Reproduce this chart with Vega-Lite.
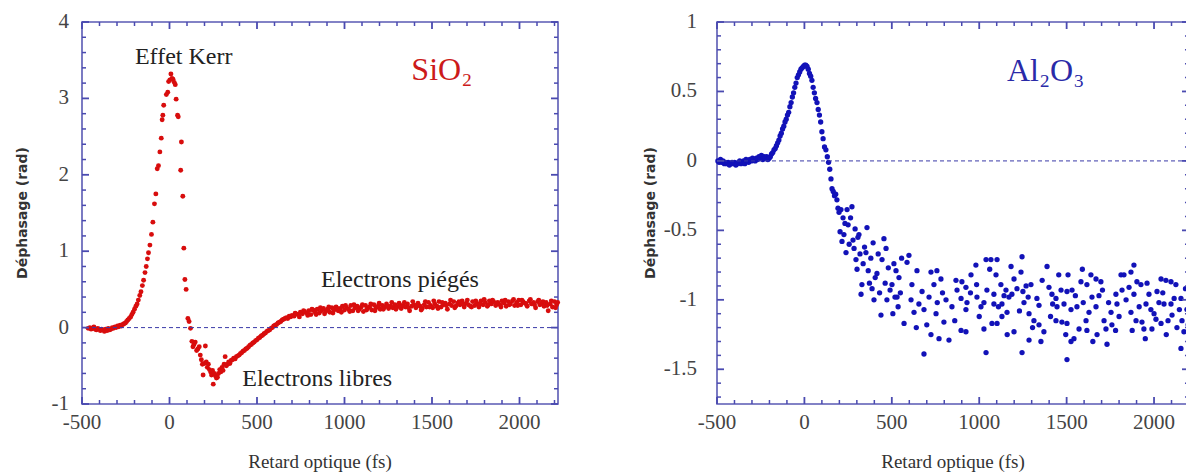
{
"$schema": "https://vega.github.io/schema/vega-lite/v6.json",
"padding": {"left": 15, "top": 10, "right": 1, "bottom": 0},
"background": "white",
"spacing": 82,
"config": {"view": {"stroke": "#5a5ab4", "strokeWidth": 1.6}},
"datasets": {
"sio2": [
{"t":-465,"p":-0.01},{"t":-455,"p":0.00},{"t":-448,"p":-0.02},{"t":-440,"p":-0.01},{"t":-432,"p":0.01},{"t":-425,"p":-0.02},{"t":-418,"p":-0.03},{"t":-410,"p":-0.01},{"t":-402,"p":-0.02},{"t":-395,"p":-0.04},{"t":-388,"p":-0.02},{"t":-380,"p":-0.03},{"t":-372,"p":-0.05},{"t":-365,"p":-0.02},{"t":-357,"p":-0.04},{"t":-350,"p":-0.01},{"t":-342,"p":-0.03},{"t":-335,"p":-0.02},{"t":-327,"p":0.00},{"t":-320,"p":-0.01},{"t":-312,"p":0.01},{"t":-305,"p":0.00},{"t":-297,"p":0.02},{"t":-290,"p":0.01},{"t":-282,"p":0.03},{"t":-275,"p":0.02},{"t":-267,"p":0.04},{"t":-260,"p":0.05},{"t":-252,"p":0.06},{"t":-245,"p":0.08},{"t":-238,"p":0.10},{"t":-230,"p":0.12},{"t":-222,"p":0.14},{"t":-215,"p":0.17},{"t":-208,"p":0.20},{"t":-200,"p":0.24},{"t":-192,"p":0.28},{"t":-185,"p":0.31},{"t":-178,"p":0.36},{"t":-170,"p":0.42},{"t":-163,"p":0.47},{"t":-155,"p":0.55},{"t":-148,"p":0.62},{"t":-140,"p":0.72},{"t":-133,"p":0.80},{"t":-126,"p":0.90},{"t":-120,"p":0.98},{"t":-112,"p":1.08},{"t":-103,"p":1.22},{"t":-95,"p":1.38},{"t":-86,"p":1.62},{"t":-78,"p":1.75},{"t":-70,"p":2.08},{"t":-63,"p":2.12},{"t":-55,"p":2.30},{"t":-47,"p":2.48},{"t":-42,"p":2.72},{"t":-38,"p":2.78},{"t":-33,"p":2.91},{"t":-18,"p":3.05},{"t":-10,"p":3.08},{"t":-5,"p":3.22},{"t":2,"p":3.24},{"t":8,"p":3.32},{"t":14,"p":3.26},{"t":20,"p":3.25},{"t":27,"p":3.21},{"t":33,"p":3.18},{"t":38,"p":2.99},{"t":46,"p":2.78},{"t":50,"p":2.76},{"t":68,"p":2.43},{"t":64,"p":2.06},{"t":76,"p":1.72},{"t":82,"p":1.04},{"t":88,"p":0.63},{"t":95,"p":0.50},{"t":105,"p":0.12},{"t":112,"p":0.08},{"t":120,"p":-0.01},{"t":128,"p":-0.18},{"t":134,"p":-0.25},{"t":140,"p":-0.22},{"t":147,"p":-0.19},{"t":155,"p":-0.30},{"t":162,"p":-0.28},{"t":170,"p":-0.25},{"t":176,"p":-0.36},{"t":182,"p":-0.42},{"t":188,"p":-0.48},{"t":192,"p":-0.62},{"t":198,"p":-0.47},{"t":205,"p":-0.24},{"t":210,"p":-0.45},{"t":216,"p":-0.52},{"t":222,"p":-0.48},{"t":228,"p":-0.55},{"t":235,"p":-0.58},{"t":240,"p":-0.62},{"t":246,"p":-0.56},{"t":250,"p":-0.74},{"t":256,"p":-0.60},{"t":262,"p":-0.63},{"t":268,"p":-0.66},{"t":274,"p":-0.65},{"t":280,"p":-0.60},{"t":287,"p":-0.55},{"t":293,"p":-0.58},{"t":300,"p":-0.52},{"t":306,"p":-0.56},{"t":312,"p":-0.48},{"t":318,"p":-0.38},{"t":325,"p":-0.50},{"t":332,"p":-0.48},{"t":338,"p":-0.45},{"t":345,"p":-0.47},{"t":352,"p":-0.43},{"t":360,"p":-0.42},{"t":367,"p":-0.40},{"t":375,"p":-0.41},{"t":382,"p":-0.38},{"t":390,"p":-0.37},{"t":398,"p":-0.36},{"t":405,"p":-0.34},{"t":412,"p":-0.33},{"t":420,"p":-0.31},{"t":428,"p":-0.30},{"t":436,"p":-0.28},{"t":444,"p":-0.27},{"t":452,"p":-0.25},{"t":460,"p":-0.23},{"t":468,"p":-0.22},{"t":476,"p":-0.20},{"t":484,"p":-0.19},{"t":492,"p":-0.17},{"t":500,"p":-0.16},{"t":508,"p":-0.14},{"t":516,"p":-0.13},{"t":524,"p":-0.11},{"t":532,"p":-0.10},{"t":540,"p":-0.08},{"t":548,"p":-0.07},{"t":556,"p":-0.05},{"t":564,"p":-0.04},{"t":572,"p":-0.03},{"t":580,"p":-0.01},{"t":588,"p":0.00},{"t":596,"p":0.02},{"t":604,"p":0.03},{"t":612,"p":0.04},{"t":620,"p":0.06},{"t":628,"p":0.07},{"t":636,"p":0.08},{"t":644,"p":0.10},{"t":652,"p":0.11},{"t":660,"p":0.12},{"t":668,"p":0.13},{"t":676,"p":0.12},{"t":684,"p":0.15},{"t":692,"p":0.14},{"t":700,"p":0.16},
{"t":712,"p":0.15},{"t":724,"p":0.18},{"t":736,"p":0.17},{"t":748,"p":0.20},{"t":760,"p":0.18},{"t":772,"p":0.21},{"t":784,"p":0.19},{"t":796,"p":0.22},{"t":808,"p":0.17},{"t":820,"p":0.23},{"t":832,"p":0.20},{"t":844,"p":0.24},{"t":856,"p":0.19},{"t":868,"p":0.22},{"t":880,"p":0.25},{"t":892,"p":0.21},{"t":904,"p":0.24},{"t":916,"p":0.20},{"t":928,"p":0.26},{"t":940,"p":0.23},{"t":952,"p":0.27},{"t":964,"p":0.22},{"t":976,"p":0.25},{"t":988,"p":0.28},{"t":1000,"p":0.23},{"t":1012,"p":0.26},{"t":1024,"p":0.24},{"t":1036,"p":0.29},{"t":1048,"p":0.22},{"t":1060,"p":0.26},{"t":1072,"p":0.28},{"t":1084,"p":0.24},{"t":1096,"p":0.27},{"t":1108,"p":0.21},{"t":1120,"p":0.29},{"t":1132,"p":0.25},{"t":1144,"p":0.27},{"t":1156,"p":0.23},{"t":1168,"p":0.30},{"t":1180,"p":0.26},{"t":1192,"p":0.28},{"t":1204,"p":0.24},{"t":1216,"p":0.29},{"t":1228,"p":0.27},{"t":1240,"p":0.31},{"t":1252,"p":0.25},{"t":1264,"p":0.28},{"t":1276,"p":0.26},{"t":1288,"p":0.30},{"t":1300,"p":0.27},{"t":1312,"p":0.32},{"t":1324,"p":0.25},{"t":1336,"p":0.29},{"t":1348,"p":0.27},{"t":1360,"p":0.31},{"t":1372,"p":0.22},{"t":1384,"p":0.28},{"t":1396,"p":0.30},{"t":1408,"p":0.26},{"t":1420,"p":0.32},{"t":1432,"p":0.28},{"t":1444,"p":0.25},{"t":1456,"p":0.30},{"t":1468,"p":0.27},{"t":1480,"p":0.33},{"t":1492,"p":0.29},{"t":1504,"p":0.26},{"t":1516,"p":0.31},{"t":1528,"p":0.28},{"t":1540,"p":0.34},{"t":1552,"p":0.27},{"t":1564,"p":0.30},{"t":1576,"p":0.32},{"t":1588,"p":0.24},{"t":1600,"p":0.31},{"t":1612,"p":0.29},{"t":1624,"p":0.34},{"t":1636,"p":0.28},{"t":1648,"p":0.32},{"t":1660,"p":0.30},{"t":1672,"p":0.35},{"t":1684,"p":0.27},{"t":1696,"p":0.32},{"t":1708,"p":0.30},{"t":1720,"p":0.28},{"t":1732,"p":0.34},{"t":1744,"p":0.29},{"t":1756,"p":0.32},{"t":1768,"p":0.27},{"t":1780,"p":0.35},{"t":1792,"p":0.30},{"t":1804,"p":0.33},{"t":1816,"p":0.28},{"t":1828,"p":0.35},{"t":1840,"p":0.31},{"t":1852,"p":0.34},{"t":1864,"p":0.29},{"t":1876,"p":0.33},{"t":1888,"p":0.30},{"t":1900,"p":0.35},{"t":1912,"p":0.32},{"t":1924,"p":0.28},{"t":1936,"p":0.34},{"t":1948,"p":0.31},{"t":1960,"p":0.35},{"t":1972,"p":0.29},{"t":1984,"p":0.33},{"t":1996,"p":0.36},{"t":2008,"p":0.30},{"t":2020,"p":0.34},{"t":2032,"p":0.32},{"t":2044,"p":0.28},{"t":2056,"p":0.35},{"t":2068,"p":0.31},{"t":2080,"p":0.33},{"t":2092,"p":0.26},{"t":2104,"p":0.34},{"t":2116,"p":0.30},{"t":2128,"p":0.32},{"t":2140,"p":0.28},{"t":2152,"p":0.33},{"t":2164,"p":0.22},{"t":2176,"p":0.31},{"t":2188,"p":0.27},{"t":2200,"p":0.34},{"t":2212,"p":0.30},
{"t":718,"p":0.19},{"t":742,"p":0.14},{"t":766,"p":0.22},{"t":790,"p":0.16},{"t":814,"p":0.24},{"t":838,"p":0.17},{"t":862,"p":0.26},{"t":886,"p":0.18},{"t":910,"p":0.27},{"t":934,"p":0.19},{"t":958,"p":0.25},{"t":982,"p":0.20},{"t":1006,"p":0.29},{"t":1030,"p":0.21},{"t":1054,"p":0.30},{"t":1078,"p":0.22},{"t":1102,"p":0.30},{"t":1126,"p":0.23},{"t":1150,"p":0.31},{"t":1174,"p":0.22},{"t":1198,"p":0.32},{"t":1222,"p":0.24},{"t":1246,"p":0.28},{"t":1270,"p":0.33},{"t":1294,"p":0.24},{"t":1318,"p":0.29},{"t":1342,"p":0.33},{"t":1366,"p":0.26},{"t":1390,"p":0.34},{"t":1414,"p":0.29},{"t":1438,"p":0.23},{"t":1462,"p":0.34},{"t":1486,"p":0.27},{"t":1510,"p":0.35},{"t":1534,"p":0.25},{"t":1558,"p":0.33},{"t":1582,"p":0.29},{"t":1606,"p":0.36},{"t":1630,"p":0.26},{"t":1654,"p":0.34},{"t":1678,"p":0.31},{"t":1702,"p":0.36},{"t":1726,"p":0.27},{"t":1750,"p":0.35},{"t":1774,"p":0.31},{"t":1798,"p":0.37},{"t":1822,"p":0.30},{"t":1846,"p":0.36},{"t":1870,"p":0.32},{"t":1894,"p":0.27},{"t":1918,"p":0.36},{"t":1942,"p":0.30},{"t":1966,"p":0.37},{"t":1990,"p":0.29},{"t":2014,"p":0.36},{"t":2038,"p":0.31},{"t":2062,"p":0.37},{"t":2086,"p":0.30},{"t":2110,"p":0.36},{"t":2134,"p":0.34},{"t":2158,"p":0.29},{"t":2182,"p":0.35},{"t":2206,"p":0.26},{"t":2218,"p":0.33}
],
"al2o3": [
{"t":-495,"p":0.00},{"t":-488,"p":-0.01},{"t":-480,"p":0.01},{"t":-473,"p":-0.01},{"t":-466,"p":0.00},{"t":-458,"p":-0.02},{"t":-451,"p":-0.01},{"t":-444,"p":-0.02},{"t":-436,"p":-0.01},{"t":-429,"p":-0.03},{"t":-422,"p":-0.02},{"t":-414,"p":-0.01},{"t":-407,"p":-0.02},{"t":-400,"p":-0.01},{"t":-392,"p":-0.03},{"t":-385,"p":-0.02},{"t":-378,"p":-0.01},{"t":-370,"p":0.00},{"t":-363,"p":-0.02},{"t":-356,"p":-0.01},{"t":-348,"p":0.00},{"t":-341,"p":-0.02},{"t":-334,"p":0.01},{"t":-326,"p":0.00},{"t":-319,"p":-0.01},{"t":-312,"p":0.01},{"t":-304,"p":0.00},{"t":-297,"p":0.02},{"t":-290,"p":0.01},{"t":-282,"p":0.00},{"t":-275,"p":0.02},{"t":-268,"p":0.01},{"t":-260,"p":0.03},{"t":-253,"p":0.02},{"t":-246,"p":0.04},{"t":-238,"p":0.01},{"t":-231,"p":0.03},{"t":-224,"p":0.02},{"t":-216,"p":0.03},{"t":-209,"p":0.01},{"t":-202,"p":0.02},{"t":-195,"p":0.03},{"t":-188,"p":0.05},{"t":-181,"p":0.06},{"t":-174,"p":0.08},{"t":-167,"p":0.09},{"t":-160,"p":0.11},{"t":-153,"p":0.13},{"t":-146,"p":0.15},{"t":-139,"p":0.18},{"t":-132,"p":0.20},{"t":-125,"p":0.23},{"t":-118,"p":0.25},{"t":-111,"p":0.28},{"t":-104,"p":0.30},{"t":-97,"p":0.33},{"t":-90,"p":0.35},{"t":-83,"p":0.39},{"t":-76,"p":0.42},{"t":-69,"p":0.46},{"t":-62,"p":0.49},{"t":-55,"p":0.53},{"t":-48,"p":0.56},{"t":-41,"p":0.60},{"t":-34,"p":0.62},{"t":-27,"p":0.64},{"t":-20,"p":0.66},{"t":-13,"p":0.67},{"t":-6,"p":0.68},{"t":1,"p":0.69},{"t":8,"p":0.69},{"t":15,"p":0.68},{"t":22,"p":0.66},{"t":29,"p":0.63},{"t":36,"p":0.61},{"t":43,"p":0.58},{"t":50,"p":0.53},{"t":57,"p":0.49},{"t":64,"p":0.45},{"t":72,"p":0.42},{"t":79,"p":0.37},{"t":86,"p":0.33},{"t":93,"p":0.28},{"t":100,"p":0.21},{"t":107,"p":0.16},{"t":115,"p":0.10},{"t":123,"p":0.08},{"t":131,"p":0.03},{"t":138,"p":-0.01},{"t":145,"p":-0.06},{"t":152,"p":-0.13},{"t":158,"p":-0.20},{"t":165,"p":-0.22},{"t":172,"p":-0.25},{"t":179,"p":-0.24},{"t":186,"p":-0.28},{"t":192,"p":-0.34},{"t":198,"p":-0.37},{"t":204,"p":-0.51},{"t":209,"p":-0.35},{"t":215,"p":-0.58},{"t":221,"p":-0.41},{"t":226,"p":-0.53},{"t":232,"p":-0.45},{"t":238,"p":-0.66},{"t":244,"p":-0.35},{"t":250,"p":-0.46},{"t":256,"p":-0.60},{"t":264,"p":-0.41},{"t":272,"p":-0.33},{"t":278,"p":-0.57},{"t":284,"p":-0.63},{"t":290,"p":-0.49},{"t":295,"p":-0.71},{"t":301,"p":-0.78},{"t":306,"p":-0.55},{"t":312,"p":-0.53},{"t":318,"p":-0.67},{"t":324,"p":-0.96},{"t":329,"p":-0.89},{"t":336,"p":-0.74},{"t":344,"p":-0.62},{"t":352,"p":-0.66},{"t":358,"p":-0.48},{"t":365,"p":-0.79},{"t":372,"p":-0.88},{"t":380,"p":-0.70},{"t":387,"p":-0.92},{"t":393,"p":-0.59},{"t":398,"p":-1.00},{"t":405,"p":-0.84},{"t":415,"p":-0.81},{"t":422,"p":-0.67},{"t":430,"p":-0.95},{"t":438,"p":-1.11},{"t":444,"p":-0.71},{"t":455,"p":-0.56},{"t":462,"p":-0.88},{"t":467,"p":-0.63},{"t":472,"p":-1.00},{"t":480,"p":-0.77},{"t":490,"p":-0.93},{"t":501,"p":-0.89},{"t":506,"p":-1.10},{"t":512,"p":-0.74},{"t":518,"p":-0.98},{"t":524,"p":-0.79},{"t":530,"p":-0.98},{"t":536,"p":-1.05},{"t":541,"p":-0.84},{"t":549,"p":-0.95},{"t":556,"p":-0.70},{"t":570,"p":-1.17},
{"t":598,"p":-0.68},{"t":587,"p":-0.73},{"t":644,"p":-0.79},{"t":615,"p":-0.89},{"t":673,"p":-0.94},{"t":610,"p":-1.00},{"t":655,"p":-1.03},{"t":627,"p":-1.09},{"t":684,"p":-1.07},{"t":724,"p":-0.80},{"t":758,"p":-0.79},{"t":741,"p":-0.89},{"t":781,"p":-0.85},{"t":713,"p":-0.98},{"t":760,"p":-1.02},{"t":810,"p":-1.00},{"t":753,"p":-1.10},{"t":798,"p":-1.16},{"t":724,"p":-1.25},{"t":770,"p":-1.28},{"t":827,"p":-1.29},{"t":684,"p":-1.39},{"t":867,"p":-0.86},{"t":901,"p":-0.87},{"t":873,"p":-0.93},{"t":924,"p":-0.91},{"t":953,"p":-0.82},{"t":981,"p":-0.75},{"t":985,"p":-0.89},{"t":896,"p":-0.99},{"t":930,"p":-1.02},{"t":844,"p":-1.05},{"t":924,"p":-1.07},{"t":987,"p":-0.98},{"t":1027,"p":-1.02},{"t":1010,"p":-1.05},{"t":896,"p":-1.22},{"t":924,"p":-1.23},{"t":1027,"p":-1.21},{"t":1039,"p":-1.38},{"t":1039,"p":-0.71},{"t":1067,"p":-0.71},{"t":1102,"p":-0.71},{"t":1096,"p":-0.82},{"t":1044,"p":-0.93},{"t":1084,"p":-0.96},{"t":1124,"p":-0.89},{"t":1142,"p":-0.97},{"t":1084,"p":-1.03},{"t":1130,"p":-1.03},{"t":1153,"p":-0.93},{"t":1187,"p":-0.96},{"t":1182,"p":-0.76},{"t":1199,"p":-0.85},{"t":1216,"p":-0.92},{"t":1245,"p":-0.69},{"t":1239,"p":-0.80},{"t":1250,"p":-0.94},{"t":1256,"p":-1.02},{"t":1296,"p":-0.89},{"t":1285,"p":-1.10},{"t":1159,"p":-1.09},{"t":1130,"p":-1.12},{"t":1102,"p":-1.17},{"t":1073,"p":-1.17},{"t":1199,"p":-1.23},{"t":1245,"p":-1.38},{"t":1285,"p":-1.29},{"t":1330,"p":-0.99},{"t":1342,"p":-1.04},{"t":1313,"p":-1.15},{"t":1342,"p":-1.18},{"t":1370,"p":-1.23},{"t":1353,"p":-1.30},{"t":1388,"p":-0.76},{"t":1399,"p":-0.91},{"t":1416,"p":-0.96},{"t":1439,"p":-0.99},{"t":1445,"p":-1.05},{"t":1468,"p":-0.93},{"t":1485,"p":-1.03},{"t":1439,"p":-1.15},{"t":1473,"p":-1.16},{"t":1502,"p":-0.94},{"t":1508,"p":-0.82},{"t":1531,"p":-0.93},{"t":1525,"p":-1.07},{"t":1559,"p":-1.05},{"t":1502,"p":-1.17},{"t":1525,"p":-1.30},{"t":1502,"p":-1.43},{"t":1542,"p":-1.28},{"t":1571,"p":-1.21},{"t":1582,"p":-0.87},{"t":1616,"p":-0.89},{"t":1639,"p":-0.82},{"t":1668,"p":-0.85},{"t":1696,"p":-0.87},{"t":1645,"p":-0.98},{"t":1685,"p":-0.97},{"t":1668,"p":-1.05},{"t":1628,"p":-1.09},{"t":1611,"p":-1.15},{"t":1616,"p":-1.22},{"t":1674,"p":-1.25},{"t":1714,"p":-1.15},{"t":1725,"p":-1.21},{"t":1731,"p":-1.32},{"t":1759,"p":-1.18},{"t":1754,"p":-1.09},{"t":1788,"p":-1.03},{"t":1782,"p":-0.96},{"t":1811,"p":-0.82},{"t":1828,"p":-0.82},{"t":1868,"p":-0.80},{"t":1885,"p":-0.75},{"t":1817,"p":-0.93},{"t":1857,"p":-0.91},{"t":1885,"p":-0.96},{"t":1902,"p":-0.87},{"t":1925,"p":-0.89},{"t":1868,"p":-1.09},{"t":1897,"p":-1.15},{"t":1931,"p":-1.16},{"t":1954,"p":-1.03},{"t":1942,"p":-1.21},{"t":1971,"p":-0.96},{"t":1982,"p":-1.07},{"t":2017,"p":-0.94},{"t":2040,"p":-0.85},{"t":2068,"p":-0.86},{"t":2097,"p":-0.87},{"t":2125,"p":-0.89},{"t":2028,"p":-1.02},{"t":2057,"p":-1.03},{"t":2097,"p":-1.03},{"t":2011,"p":-1.14},{"t":2040,"p":-1.17},{"t":1988,"p":-1.21},{"t":2103,"p":-1.11},{"t":2131,"p":-1.20},{"t":2154,"p":-0.99},{"t":2160,"p":-1.15},{"t":2171,"p":-1.23},{"t":2154,"p":-1.35},{"t":2188,"p":-1.07},
{"t":1110,"p":-1.05},{"t":1170,"p":-0.98},{"t":1230,"p":-1.08},{"t":1268,"p":-0.90},{"t":1305,"p":-1.20},{"t":1360,"p":-0.86},{"t":1408,"p":-1.12},{"t":1455,"p":-0.82},{"t":1495,"p":-1.25},{"t":1550,"p":-0.97},{"t":1595,"p":-1.02},{"t":1650,"p":-1.30},{"t":1705,"p":-0.93},{"t":1740,"p":-1.02},{"t":1800,"p":-1.12},{"t":1840,"p":-1.00},{"t":1875,"p":-1.22},{"t":1915,"p":-1.05},{"t":1960,"p":-0.88},{"t":2000,"p":-1.10},{"t":2050,"p":-0.95},{"t":2080,"p":-1.15},{"t":2115,"p":-0.99},{"t":2145,"p":-1.07},{"t":2180,"p":-0.92},{"t":2195,"p":-1.18},{"t":1280,"p":-0.98},{"t":1420,"p":-1.03},{"t":1590,"p":-0.78},{"t":1780,"p":-1.22},{"t":1950,"p":-1.28},{"t":2070,"p":-1.25},{"t":1160,"p":-1.25},{"t":1000,"p":-1.12},{"t":950,"p":-0.95},{"t":860,"p":-1.15},{"t":790,"p":-0.95},{"t":700,"p":-1.18},{"t":640,"p":-1.20},{"t":1060,"p":-0.78}
]
},
"hconcat": [
{
"width": 476, "height": 382,
"layer": [
{"data": {"name": "sio2"}, "mark": {"type": "circle", "size": 24, "color": "#d80d0d", "opacity": 1},
 "encoding": {
  "x": {"field": "t", "type": "quantitative", "scale": {"domain": [-500, 2220], "nice": false, "zero": false}, "axis": null},
  "y": {"field": "p", "type": "quantitative", "scale": {"domain": [-1, 4], "nice": false, "zero": false}, "axis": null}}},
{"data": {"values": [{}]}, "mark": {"type": "rule", "color": "#3a3aa8", "strokeDash": [4, 3], "strokeWidth": 1},
 "encoding": {"y": {"datum": 0, "type": "quantitative", "scale": {"domain": [-1, 4], "nice": false, "zero": false}, "axis": null}}},
{"data": {"values": [{"v":-500},{"v":0},{"v":500},{"v":1000},{"v":1500},{"v":2000}]}, "mark": {"type": "rule", "strokeWidth": 1.8, "color": "#4a4ab0"},
 "encoding": {"x": {"field": "v", "type": "quantitative", "scale": {"domain": [-500, 2220], "nice": false, "zero": false}, "axis": null},
  "y": {"datum": -1, "type": "quantitative", "scale": {"domain": [-1, 4], "nice": false, "zero": false}, "axis": null},
  "y2": {"datum": -0.9084}}},
{"data": {"values": [{"v":-400},{"v":-300},{"v":-200},{"v":-100},{"v":100},{"v":200},{"v":300},{"v":400},{"v":600},{"v":700},{"v":800},{"v":900},{"v":1100},{"v":1200},{"v":1300},{"v":1400},{"v":1600},{"v":1700},{"v":1800},{"v":1900},{"v":2100},{"v":2200}]}, "mark": {"type": "rule", "strokeWidth": 1.5, "color": "#4a4ab0"},
 "encoding": {"x": {"field": "v", "type": "quantitative", "scale": {"domain": [-500, 2220], "nice": false, "zero": false}, "axis": null},
  "y": {"datum": -1, "type": "quantitative", "scale": {"domain": [-1, 4], "nice": false, "zero": false}, "axis": null},
  "y2": {"datum": -0.9476}}},
{"data": {"values": [{"v":-500},{"v":0},{"v":500},{"v":1000},{"v":1500},{"v":2000}]}, "mark": {"type": "rule", "strokeWidth": 1.8, "color": "#4a4ab0"},
 "encoding": {"x": {"field": "v", "type": "quantitative", "scale": {"domain": [-500, 2220], "nice": false, "zero": false}, "axis": null},
  "y": {"datum": 4, "type": "quantitative", "scale": {"domain": [-1, 4], "nice": false, "zero": false}, "axis": null},
  "y2": {"datum": 3.9084}}},
{"data": {"values": [{"v":-400},{"v":-300},{"v":-200},{"v":-100},{"v":100},{"v":200},{"v":300},{"v":400},{"v":600},{"v":700},{"v":800},{"v":900},{"v":1100},{"v":1200},{"v":1300},{"v":1400},{"v":1600},{"v":1700},{"v":1800},{"v":1900},{"v":2100},{"v":2200}]}, "mark": {"type": "rule", "strokeWidth": 1.5, "color": "#4a4ab0"},
 "encoding": {"x": {"field": "v", "type": "quantitative", "scale": {"domain": [-500, 2220], "nice": false, "zero": false}, "axis": null},
  "y": {"datum": 4, "type": "quantitative", "scale": {"domain": [-1, 4], "nice": false, "zero": false}, "axis": null},
  "y2": {"datum": 3.9476}}},
{"data": {"values": [{"v":-1},{"v":0},{"v":1},{"v":2},{"v":3},{"v":4}]}, "mark": {"type": "rule", "strokeWidth": 1.8, "color": "#4a4ab0"},
 "encoding": {"y": {"field": "v", "type": "quantitative", "scale": {"domain": [-1, 4], "nice": false, "zero": false}, "axis": null},
  "x": {"datum": -500, "type": "quantitative", "scale": {"domain": [-500, 2220], "nice": false, "zero": false}, "axis": null},
  "x2": {"datum": -460}}},
{"data": {"values": [{"v":-0.8},{"v":-0.6},{"v":-0.4},{"v":-0.2},{"v":0.2},{"v":0.4},{"v":0.6},{"v":0.8},{"v":1.2},{"v":1.4},{"v":1.6},{"v":1.8},{"v":2.2},{"v":2.4},{"v":2.6},{"v":2.8},{"v":3.2},{"v":3.4},{"v":3.6},{"v":3.8}]}, "mark": {"type": "rule", "strokeWidth": 1.5, "color": "#4a4ab0"},
 "encoding": {"y": {"field": "v", "type": "quantitative", "scale": {"domain": [-1, 4], "nice": false, "zero": false}, "axis": null},
  "x": {"datum": -500, "type": "quantitative", "scale": {"domain": [-500, 2220], "nice": false, "zero": false}, "axis": null},
  "x2": {"datum": -477}}},
{"data": {"values": [{"v":-1},{"v":0},{"v":1},{"v":2},{"v":3},{"v":4}]}, "mark": {"type": "rule", "strokeWidth": 1.8, "color": "#4a4ab0"},
 "encoding": {"y": {"field": "v", "type": "quantitative", "scale": {"domain": [-1, 4], "nice": false, "zero": false}, "axis": null},
  "x": {"datum": 2220, "type": "quantitative", "scale": {"domain": [-500, 2220], "nice": false, "zero": false}, "axis": null},
  "x2": {"datum": 2180}}},
{"data": {"values": [{"v":-0.8},{"v":-0.6},{"v":-0.4},{"v":-0.2},{"v":0.2},{"v":0.4},{"v":0.6},{"v":0.8},{"v":1.2},{"v":1.4},{"v":1.6},{"v":1.8},{"v":2.2},{"v":2.4},{"v":2.6},{"v":2.8},{"v":3.2},{"v":3.4},{"v":3.6},{"v":3.8}]}, "mark": {"type": "rule", "strokeWidth": 1.5, "color": "#4a4ab0"},
 "encoding": {"y": {"field": "v", "type": "quantitative", "scale": {"domain": [-1, 4], "nice": false, "zero": false}, "axis": null},
  "x": {"datum": 2220, "type": "quantitative", "scale": {"domain": [-500, 2220], "nice": false, "zero": false}, "axis": null},
  "x2": {"datum": 2197}}},
{"data": {"values": [{"v":-500,"lab":"-500"},{"v":0,"lab":"0"},{"v":500,"lab":"500"},{"v":1000,"lab":"1000"},{"v":1500,"lab":"1500"},{"v":2000,"lab":"2000"}]}, "mark": {"type": "text", "font": "Liberation Serif", "fontSize": 21, "color": "#444", "align": "center", "baseline": "top", "yOffset": 8},
 "encoding": {"x": {"field": "v", "type": "quantitative", "scale": {"domain": [-500, 2220], "nice": false, "zero": false}, "axis": null},
  "y": {"datum": -1, "type": "quantitative", "scale": {"domain": [-1, 4], "nice": false, "zero": false}, "axis": null},
  "text": {"field": "lab"}}},
{"data": {"values": [{"v":-1,"lab":"-1"},{"v":0,"lab":"0"},{"v":1,"lab":"1"},{"v":2,"lab":"2"},{"v":3,"lab":"3"},{"v":4,"lab":"4"}]}, "mark": {"type": "text", "font": "Liberation Serif", "fontSize": 21, "color": "#444", "align": "right", "baseline": "middle", "xOffset": -13},
 "encoding": {"y": {"field": "v", "type": "quantitative", "scale": {"domain": [-1, 4], "nice": false, "zero": false}, "axis": null},
  "x": {"datum": -500, "type": "quantitative", "scale": {"domain": [-500, 2220], "nice": false, "zero": false}, "axis": null},
  "text": {"field": "lab"}}},
{"data": {"values": [{"t": 860, "label": "Retard optique (fs)"}]}, "mark": {"type": "text", "font": "Liberation Serif", "fontSize": 19, "color": "#333", "align": "center", "baseline": "middle", "yOffset": 58},
 "encoding": {"x": {"field": "t", "type": "quantitative", "scale": {"domain": [-500, 2220], "nice": false, "zero": false}, "axis": null},
  "y": {"datum": -1, "type": "quantitative", "scale": {"domain": [-1, 4], "nice": false, "zero": false}, "axis": null},
  "text": {"field": "label"}}},
{"data": {"values": [{"p": 1.5, "label": "Déphasage (rad)"}]}, "mark": {"type": "text", "font": "DejaVu Sans", "fontSize": 14, "fontWeight": "bold", "color": "#333", "align": "center", "baseline": "middle", "angle": 270, "xOffset": -59},
 "encoding": {"y": {"field": "p", "type": "quantitative", "scale": {"domain": [-1, 4], "nice": false, "zero": false}, "axis": null},
  "x": {"datum": -500, "type": "quantitative", "scale": {"domain": [-500, 2220], "nice": false, "zero": false}, "axis": null},
  "text": {"field": "label"}}},
{"data": {"values": [{"t": 81, "p": 3.54, "label": "Effet Kerr"}, {"t": 1317, "p": 0.62, "label": "Electrons piégés"}, {"t": 844, "p": -0.67, "label": "Electrons libres"}]},
 "mark": {"type": "text", "font": "Liberation Serif", "fontSize": 24, "color": "#222", "align": "center", "baseline": "middle"},
 "encoding": {
  "x": {"field": "t", "type": "quantitative", "scale": {"domain": [-500, 2220], "nice": false, "zero": false}, "axis": null},
  "y": {"field": "p", "type": "quantitative", "scale": {"domain": [-1, 4], "nice": false, "zero": false}, "axis": null},
  "text": {"field": "label"}}},
{"data": {"values": [{"t": 1556, "p": 3.37, "label": "SiO₂"}]},
 "mark": {"type": "text", "font": "Liberation Serif", "fontSize": 32, "color": "#cc1a1a", "align": "center", "baseline": "middle"},
 "encoding": {
  "x": {"field": "t", "type": "quantitative", "scale": {"domain": [-500, 2220], "nice": false, "zero": false}, "axis": null},
  "y": {"field": "p", "type": "quantitative", "scale": {"domain": [-1, 4], "nice": false, "zero": false}, "axis": null},
  "text": {"field": "label"}}}
]
},
{
"width": 472, "height": 382,
"layer": [
{"data": {"name": "al2o3"}, "mark": {"type": "circle", "size": 28, "color": "#1212b8", "opacity": 1},
 "encoding": {
  "x": {"field": "t", "type": "quantitative", "scale": {"domain": [-500, 2200], "nice": false, "zero": false}, "axis": null},
  "y": {"field": "p", "type": "quantitative", "scale": {"domain": [-1.75, 1], "nice": false, "zero": false}, "axis": null}}},
{"data": {"values": [{}]}, "mark": {"type": "rule", "color": "#3a3aa8", "strokeDash": [4, 3], "strokeWidth": 1},
 "encoding": {"y": {"datum": 0, "type": "quantitative", "scale": {"domain": [-1.75, 1], "nice": false, "zero": false}, "axis": null}}},
{"data": {"values": [{"v":-500},{"v":0},{"v":500},{"v":1000},{"v":1500},{"v":2000}]}, "mark": {"type": "rule", "strokeWidth": 1.8, "color": "#4a4ab0"},
 "encoding": {"x": {"field": "v", "type": "quantitative", "scale": {"domain": [-500, 2200], "nice": false, "zero": false}, "axis": null},
  "y": {"datum": -1.75, "type": "quantitative", "scale": {"domain": [-1.75, 1], "nice": false, "zero": false}, "axis": null},
  "y2": {"datum": -1.6996}}},
{"data": {"values": [{"v":-400},{"v":-300},{"v":-200},{"v":-100},{"v":100},{"v":200},{"v":300},{"v":400},{"v":600},{"v":700},{"v":800},{"v":900},{"v":1100},{"v":1200},{"v":1300},{"v":1400},{"v":1600},{"v":1700},{"v":1800},{"v":1900},{"v":2100}]}, "mark": {"type": "rule", "strokeWidth": 1.5, "color": "#4a4ab0"},
 "encoding": {"x": {"field": "v", "type": "quantitative", "scale": {"domain": [-500, 2200], "nice": false, "zero": false}, "axis": null},
  "y": {"datum": -1.75, "type": "quantitative", "scale": {"domain": [-1.75, 1], "nice": false, "zero": false}, "axis": null},
  "y2": {"datum": -1.7212}}},
{"data": {"values": [{"v":-500},{"v":0},{"v":500},{"v":1000},{"v":1500},{"v":2000}]}, "mark": {"type": "rule", "strokeWidth": 1.8, "color": "#4a4ab0"},
 "encoding": {"x": {"field": "v", "type": "quantitative", "scale": {"domain": [-500, 2200], "nice": false, "zero": false}, "axis": null},
  "y": {"datum": 1, "type": "quantitative", "scale": {"domain": [-1.75, 1], "nice": false, "zero": false}, "axis": null},
  "y2": {"datum": 0.9496}}},
{"data": {"values": [{"v":-400},{"v":-300},{"v":-200},{"v":-100},{"v":100},{"v":200},{"v":300},{"v":400},{"v":600},{"v":700},{"v":800},{"v":900},{"v":1100},{"v":1200},{"v":1300},{"v":1400},{"v":1600},{"v":1700},{"v":1800},{"v":1900},{"v":2100}]}, "mark": {"type": "rule", "strokeWidth": 1.5, "color": "#4a4ab0"},
 "encoding": {"x": {"field": "v", "type": "quantitative", "scale": {"domain": [-500, 2200], "nice": false, "zero": false}, "axis": null},
  "y": {"datum": 1, "type": "quantitative", "scale": {"domain": [-1.75, 1], "nice": false, "zero": false}, "axis": null},
  "y2": {"datum": 0.9712}}},
{"data": {"values": [{"v":-1.5},{"v":-1},{"v":-0.5},{"v":0},{"v":0.5},{"v":1}]}, "mark": {"type": "rule", "strokeWidth": 1.8, "color": "#4a4ab0"},
 "encoding": {"y": {"field": "v", "type": "quantitative", "scale": {"domain": [-1.75, 1], "nice": false, "zero": false}, "axis": null},
  "x": {"datum": -500, "type": "quantitative", "scale": {"domain": [-500, 2200], "nice": false, "zero": false}, "axis": null},
  "x2": {"datum": -460}}},
{"data": {"values": [{"v":-1.7},{"v":-1.6},{"v":-1.4},{"v":-1.3},{"v":-1.2},{"v":-1.1},{"v":-0.9},{"v":-0.8},{"v":-0.7},{"v":-0.6},{"v":-0.4},{"v":-0.3},{"v":-0.2},{"v":-0.1},{"v":0.1},{"v":0.2},{"v":0.3},{"v":0.4},{"v":0.6},{"v":0.7},{"v":0.8},{"v":0.9}]}, "mark": {"type": "rule", "strokeWidth": 1.5, "color": "#4a4ab0"},
 "encoding": {"y": {"field": "v", "type": "quantitative", "scale": {"domain": [-1.75, 1], "nice": false, "zero": false}, "axis": null},
  "x": {"datum": -500, "type": "quantitative", "scale": {"domain": [-500, 2200], "nice": false, "zero": false}, "axis": null},
  "x2": {"datum": -477}}},
{"data": {"values": [{"v":-1.5},{"v":-1},{"v":-0.5},{"v":0},{"v":0.5},{"v":1}]}, "mark": {"type": "rule", "strokeWidth": 1.8, "color": "#4a4ab0"},
 "encoding": {"y": {"field": "v", "type": "quantitative", "scale": {"domain": [-1.75, 1], "nice": false, "zero": false}, "axis": null},
  "x": {"datum": 2200, "type": "quantitative", "scale": {"domain": [-500, 2200], "nice": false, "zero": false}, "axis": null},
  "x2": {"datum": 2160}}},
{"data": {"values": [{"v":-1.7},{"v":-1.6},{"v":-1.4},{"v":-1.3},{"v":-1.2},{"v":-1.1},{"v":-0.9},{"v":-0.8},{"v":-0.7},{"v":-0.6},{"v":-0.4},{"v":-0.3},{"v":-0.2},{"v":-0.1},{"v":0.1},{"v":0.2},{"v":0.3},{"v":0.4},{"v":0.6},{"v":0.7},{"v":0.8},{"v":0.9}]}, "mark": {"type": "rule", "strokeWidth": 1.5, "color": "#4a4ab0"},
 "encoding": {"y": {"field": "v", "type": "quantitative", "scale": {"domain": [-1.75, 1], "nice": false, "zero": false}, "axis": null},
  "x": {"datum": 2200, "type": "quantitative", "scale": {"domain": [-500, 2200], "nice": false, "zero": false}, "axis": null},
  "x2": {"datum": 2177}}},
{"data": {"values": [{"v":-500,"lab":"-500"},{"v":0,"lab":"0"},{"v":500,"lab":"500"},{"v":1000,"lab":"1000"},{"v":1500,"lab":"1500"},{"v":2000,"lab":"2000"}]}, "mark": {"type": "text", "font": "Liberation Serif", "fontSize": 21, "color": "#444", "align": "center", "baseline": "top", "yOffset": 8},
 "encoding": {"x": {"field": "v", "type": "quantitative", "scale": {"domain": [-500, 2200], "nice": false, "zero": false}, "axis": null},
  "y": {"datum": -1.75, "type": "quantitative", "scale": {"domain": [-1.75, 1], "nice": false, "zero": false}, "axis": null},
  "text": {"field": "lab"}}},
{"data": {"values": [{"v":-1.5,"lab":"-1.5"},{"v":-1,"lab":"-1"},{"v":-0.5,"lab":"-0.5"},{"v":0,"lab":"0"},{"v":0.5,"lab":"0.5"},{"v":1,"lab":"1"}]}, "mark": {"type": "text", "font": "Liberation Serif", "fontSize": 21, "color": "#444", "align": "right", "baseline": "middle", "xOffset": -20},
 "encoding": {"y": {"field": "v", "type": "quantitative", "scale": {"domain": [-1.75, 1], "nice": false, "zero": false}, "axis": null},
  "x": {"datum": -500, "type": "quantitative", "scale": {"domain": [-500, 2200], "nice": false, "zero": false}, "axis": null},
  "text": {"field": "lab"}}},
{"data": {"values": [{"t": 850, "label": "Retard optique (fs)"}]}, "mark": {"type": "text", "font": "Liberation Serif", "fontSize": 19, "color": "#333", "align": "center", "baseline": "middle", "yOffset": 58},
 "encoding": {"x": {"field": "t", "type": "quantitative", "scale": {"domain": [-500, 2200], "nice": false, "zero": false}, "axis": null},
  "y": {"datum": -1.75, "type": "quantitative", "scale": {"domain": [-1.75, 1], "nice": false, "zero": false}, "axis": null},
  "text": {"field": "label"}}},
{"data": {"values": [{"p": -0.375, "label": "Déphasage (rad)"}]}, "mark": {"type": "text", "font": "DejaVu Sans", "fontSize": 14, "fontWeight": "bold", "color": "#333", "align": "center", "baseline": "middle", "angle": 270, "xOffset": -66},
 "encoding": {"y": {"field": "p", "type": "quantitative", "scale": {"domain": [-1.75, 1], "nice": false, "zero": false}, "axis": null},
  "x": {"datum": -500, "type": "quantitative", "scale": {"domain": [-500, 2200], "nice": false, "zero": false}, "axis": null},
  "text": {"field": "label"}}},
{"data": {"values": [{"t": 1380, "p": 0.65, "label": "Al₂O₃"}]},
 "mark": {"type": "text", "font": "Liberation Serif", "fontSize": 32, "color": "#2a2aa8", "align": "center", "baseline": "middle"},
 "encoding": {
  "x": {"field": "t", "type": "quantitative", "scale": {"domain": [-500, 2200], "nice": false, "zero": false}, "axis": null},
  "y": {"field": "p", "type": "quantitative", "scale": {"domain": [-1.75, 1], "nice": false, "zero": false}, "axis": null},
  "text": {"field": "label"}}}
]
}
]
}
